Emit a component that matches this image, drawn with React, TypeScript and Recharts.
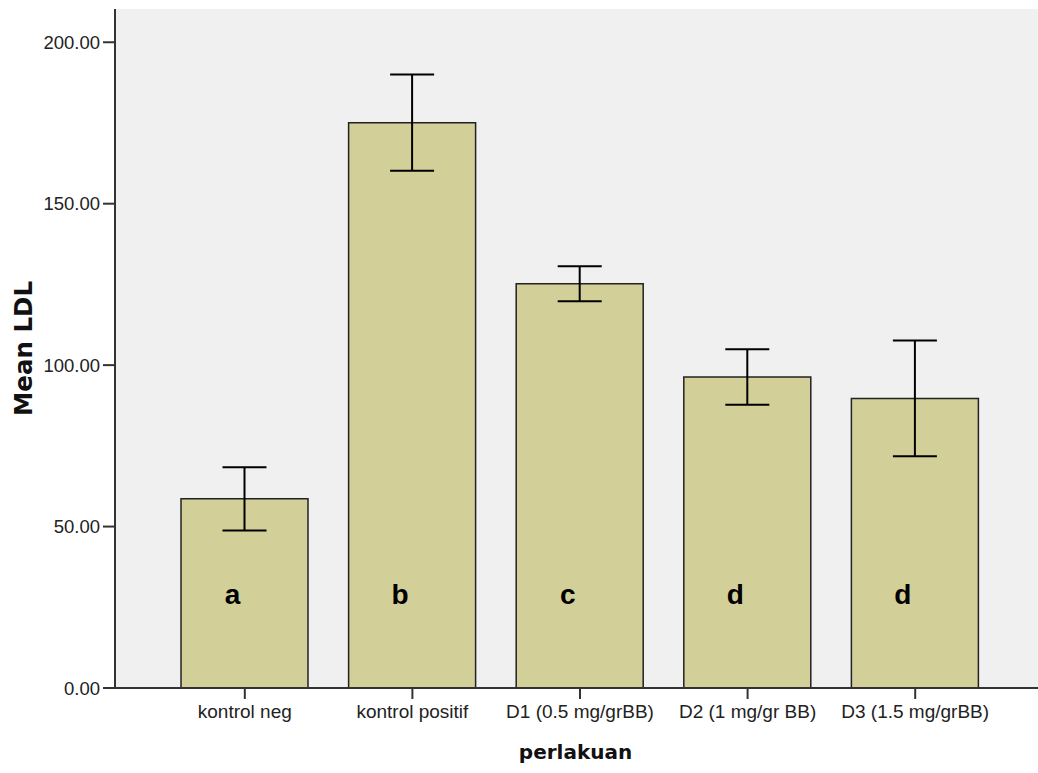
import React from "react";
import {
  BarChart,
  Bar,
  XAxis,
  YAxis,
  CartesianGrid,
  ErrorBar,
  LabelList,
} from "recharts";

const categories = [
  "kontrol neg",
  "kontrol positif",
  "D1 (0.5 mg/grBB)",
  "D2 (1 mg/gr BB)",
  "D3 (1.5 mg/grBB)",
];
const meanLDL = [58.6, 175.1, 125.2, 96.3, 89.7];
const ciHalfWidth = [9.8, 14.9, 5.4, 8.6, 17.9];
const groupLetters = ["a", "b", "c", "d", "d"];
const yTicks = [0, 50, 100, 150, 200];

const data = categories.map((c, i) => ({
  name: c,
  mean: meanLDL[i],
  err: ciHalfWidth[i],
  letter: groupLetters[i],
}));

const renderLetter = (props: any) => {
  const vb = props.viewBox || {};
  const x = props.x ?? vb.x;
  const y = props.y ?? vb.y;
  const width = props.width ?? vb.width;
  const height = props.height ?? vb.height;
  const base = y + height;
  return (
    <text
      x={x + width / 2 - 12}
      y={base - 94}
      textAnchor="middle"
      dominantBaseline="central"
      fontFamily="'Liberation Sans', Arial, sans-serif"
      fontWeight="bold"
      fontSize={28}
      fill="#000"
    >
      {props.value}
    </text>
  );
};

const renderYLabel = (props: any) => {
  const vb = props.viewBox || {};
  const cy = vb.y + vb.height / 2;
  return (
    <text
      x={23}
      y={cy}
      transform={`rotate(-90, 23, ${cy})`}
      textAnchor="middle"
      dominantBaseline="central"
      fontFamily="'DejaVu Sans', Verdana, sans-serif"
      fontWeight="bold"
      fontSize={24.5}
      fill="#111"
    >
      Mean LDL
    </text>
  );
};

export default function App() {
  return (
    <>
      <style>{`html, body { overflow: hidden; margin: 0; }`}</style>
      <div
        style={{
          position: "fixed",
          left: 0,
          top: 0,
          width: 1070,
          height: 773,
          overflow: "hidden",
          background: "#fff",
        }}
      >
        <BarChart
          width={1070}
          height={773}
          data={data}
          margin={{ top: 9, right: 0, bottom: 0, left: 0 }}
          barSize={127}
        >
          <CartesianGrid fill="#f0f0f0" horizontal={false} vertical={false} />
          <XAxis
            xAxisId="top"
            orientation="top"
            dataKey="name"
            tick={false}
            tickLine={false}
            height={0}
            axisLine={{ stroke: "#333", strokeWidth: 2 }}
            padding={{ left: 46, right: 71 }}
          />
          <XAxis
            dataKey="name"
            padding={{ left: 46, right: 71 }}
            axisLine={{ stroke: "#333", strokeWidth: 2 }}
            tickLine={{ stroke: "#333", strokeWidth: 2 }}
            tickSize={11}
            tickMargin={6}
            tick={{ fill: "#222", fontSize: 19, fontFamily: "'Liberation Sans', Arial, sans-serif" }}
            interval={0}
            height={85}
            label={{
              value: "perlakuan",
              position: "insideBottom",
              offset: 14,
              fill: "#111",
              fontSize: 20,
              fontWeight: "bold",
              fontFamily: "'DejaVu Sans', Verdana, sans-serif",
              dx: -17,
            }}
          />
          <YAxis
            width={115}
            domain={[0, 210.3]}
            ticks={yTicks}
            tickFormatter={(v: number) => v.toFixed(2)}
            axisLine={{ stroke: "#333", strokeWidth: 2 }}
            tickLine={{ stroke: "#333", strokeWidth: 2 }}
            tickSize={12}
            tickMargin={3}
            tick={{ fill: "#222", fontSize: 18.5, fontFamily: "'Liberation Sans', Arial, sans-serif" }}
            label={{ content: renderYLabel }}
          />
          <Bar
            dataKey="mean"
            fill="#d3cf98"
            stroke="#222"
            strokeWidth={1.5}
            isAnimationActive={false}
          >
            <ErrorBar dataKey="err" direction="y" width={22} stroke="#000" strokeWidth={2} />
            <LabelList dataKey="letter" content={renderLetter} />
          </Bar>
        </BarChart>
      </div>
    </>
  );
}
